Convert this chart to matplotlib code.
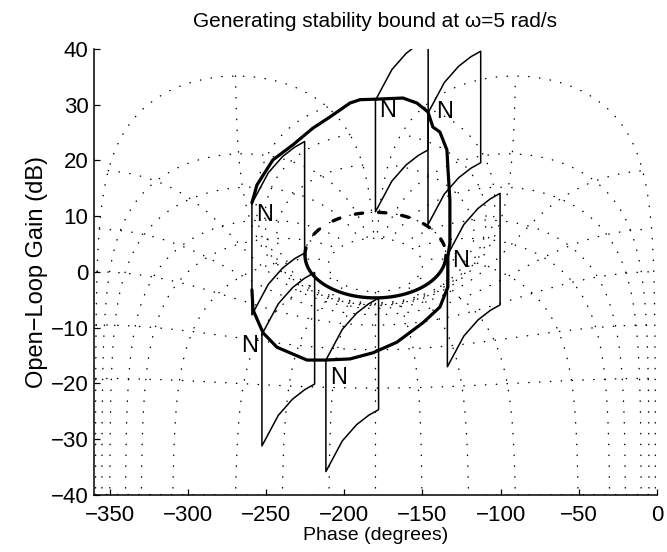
import numpy as np
import matplotlib
matplotlib.use("Agg")
import matplotlib.pyplot as plt
from matplotlib import font_manager

# ---------------- data ----------------
# Nichols grid: closed-loop magnitude contours (dB) and closed-loop phase contours (deg)
GRID_M_DB = [6, 3, 1, 0.5, 0.25, 0, -1, -3, -6, -12, -20, -40]
GRID_N_DEG = [-1, -5, -10, -20, -30, -50, -90, -120, -150, -180,
              -210, -240, -270, -310, -330, -340, -350, -355, -359]
GRID_PSI_RANGE = (-359.0, -1.0)      # closed-loop phase span of the grid (deg)
GRID_MAG_RANGE = (-80.0, 6.0)        # closed-loop magnitude span of the grid (dB)

# stability specification (closed-loop peak, dB) drawn as the thick ellipse
SPEC_M_DB = 3.0

# plant template outline (top edge, offsets from nominal point)
TPL_DPHASE = [0.0, 10.5, 19.6, 27.4, 33.7]
TPL_DGAIN = [0.0, 5.5, 8.4, 10.1, 11.1]
TPL_SPAN_DB = 20.0

# nominal points of the displayed templates
NOM_PHASE = [-146.4, -180.0, -259.0, -134.0, -252.6, -211.7]
NOM_GAIN = [28.5, 30.8, 12.3, 3.0, -11.2, -15.8]
# "N" label positions
LBL_PHASE = [-135.6, -172.0, -250.7, -125.3, -260.3, -203.4]
LBL_GAIN = [28.7, 28.9, 10.2, 2.0, -13.3, -19.0]

# generated stability bound
BOUND_PHASE = [-259.0, -255.8, -245.6, -232.8, -220.0, -209.1, -196.3, -189.9,
               -179.1, -162.4, -153.5, -146.4, -143.3, -138.8, -134.3, -133.7,
               -132.4, -132.4, -133.7, -133.7, -138.8, -149.6, -166.3, -181.6,
               -196.3, -212.3, -223.8, -243.0, -251.9, -258.3, -259.0]
BOUND_GAIN = [12.4, 15.6, 20.1, 22.8, 25.8, 27.8, 30.3, 30.9,
              31.0, 31.2, 30.3, 28.7, 26.0, 25.1, 21.9, 18.8,
              12.9, 5.2, 2.7, -2.7, -6.3, -9.1, -12.6, -14.5,
              -15.6, -15.8, -15.8, -13.5, -10.9, -6.8, -3.2]

XTICKS = [-350, -300, -250, -200, -150, -100, -50, 0]
YTICKS = [-40, -30, -20, -10, 0, 10, 20, 30, 40]

# ---------------- fonts ----------------
names = {f.name for f in font_manager.fontManager.ttflist}
base = 'Liberation Sans' if 'Liberation Sans' in names else 'DejaVu Sans'
plt.rcParams['font.family'] = [base, 'DejaVu Sans']

fig = plt.figure(figsize=(6.67, 5.52), dpi=100)
ax = fig.add_axes([0.1409, 0.1033, 0.844, 0.808])

grid_kw = dict(color='black', lw=1.0, dash_capstyle='round', zorder=1)
DOT = (0, (0.3, 7.5))


def open_loop(mag_db, psi_deg):
    """open-loop response for closed-loop T = M e^{j psi}:  L = T / (1 - T)"""
    T = 10 ** (np.asarray(mag_db) / 20.0) * np.exp(1j * np.radians(psi_deg))
    L = T / (1.0 - T)
    ph = np.degrees(np.unwrap(np.angle(L)))
    return L, ph


def wrap_to(ph, ref_idx, target):
    return ph + 360 * np.round((target - ph[ref_idx]) / 360.0)


psi = np.linspace(GRID_PSI_RANGE[0], GRID_PSI_RANGE[1], 2000)
for mdb in GRID_M_DB:
    L, ph = open_loop(mdb, psi)
    ph = wrap_to(ph, len(ph) // 2, -180.0)
    ax.plot(ph, 20 * np.log10(np.abs(L)), linestyle=DOT, **grid_kw)

mags = np.linspace(GRID_MAG_RANGE[0], GRID_MAG_RANGE[1], 3000)
for n in GRID_N_DEG:
    L, ph = open_loop(mags, np.full_like(mags, n))
    ph = wrap_to(ph, 0, n)
    ax.plot(ph, 20 * np.log10(np.abs(L)), linestyle=DOT, **grid_kw)

# spec ellipse (M circle): lower part solid, upper part dashed
M = 10 ** (SPEC_M_DB / 20.0)
c = -M**2 / (M**2 - 1)
r = M / (M**2 - 1)
t = np.linspace(-np.pi, np.pi, 1441)
Ls = c + r * np.exp(1j * t)
ph_s = np.degrees(np.angle(Ls)) % 360 - 360
g_s = 20 * np.log10(np.abs(Ls))
gext = 10 * np.log10(c**2 - r**2)
lower = g_s <= gext
ax.plot(ph_s[lower], g_s[lower], color='black', lw=2.4, solid_capstyle='round', zorder=4)
up = ~lower
ph_u = np.concatenate([ph_s[up][t[up] > 0], ph_s[up][t[up] < 0]])
g_u = np.concatenate([g_s[up][t[up] > 0], g_s[up][t[up] < 0]])
ax.plot(ph_u, g_u, color='black', lw=2.4, linestyle=(0, (2.2, 4.8)),
        dash_capstyle='round', zorder=4)

# templates
dph = np.array(TPL_DPHASE)
dg = np.array(TPL_DGAIN)
for p0, g0 in zip(NOM_PHASE, NOM_GAIN):
    xs = np.concatenate([p0 + dph, (p0 + dph)[::-1], [p0]])
    ys = np.concatenate([g0 + dg, (g0 + dg - TPL_SPAN_DB)[::-1], [g0]])
    ax.plot(xs, ys, color='black', lw=1.1, zorder=3)

# bound
ax.plot(BOUND_PHASE, BOUND_GAIN, color='black', lw=2.3, solid_joinstyle='round',
        solid_capstyle='round', zorder=5)

for x, y in zip(LBL_PHASE, LBL_GAIN):
    ax.text(x, y, 'N', fontsize=17, ha='center', va='center', zorder=6)

ax.set_xlim(-360, 0)
ax.set_ylim(-40, 40)
ax.set_xticks(XTICKS)
ax.set_yticks(YTICKS)
ax.tick_params(direction='in', length=4, width=0.9, labelsize=16)
ax.tick_params(axis='x', pad=7)
ax.tick_params(axis='y', pad=4)
for sp in ['top', 'right']:
    ax.spines[sp].set_visible(False)
for sp in ['left', 'bottom']:
    ax.spines[sp].set_linewidth(1.1)

ax.set_title('Generating stability bound at \u03c9=5 rad/s', fontsize=15, pad=16)
ax.set_xlabel('Phase (degrees)', fontsize=14, labelpad=1)
ax.set_ylabel('Open\u2212Loop Gain (dB)', fontsize=17, labelpad=2)

fig.savefig('out.png', dpi=100)
